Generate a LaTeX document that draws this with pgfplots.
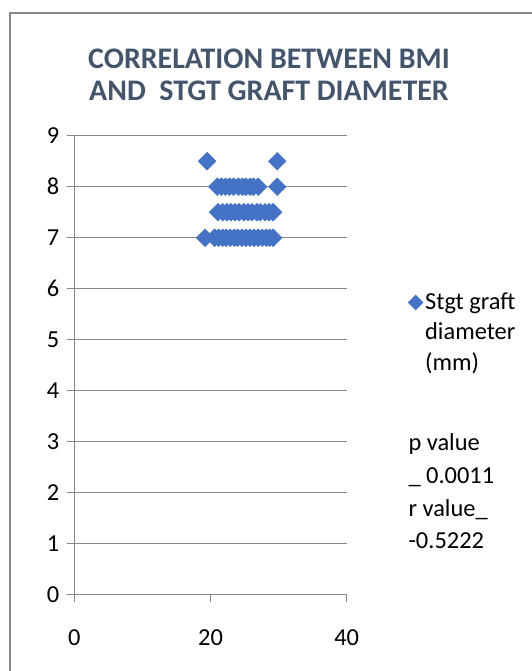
\documentclass[border=0pt]{standalone}
\usepackage{pgfplots}
\pgfplotsset{compat=1.18}
\usepackage{fontspec}
\setmainfont{Carlito}
\definecolor{mainblue}{RGB}{68,114,196}
\definecolor{titlecol}{RGB}{68,84,106}
\definecolor{gridcol}{RGB}{134,134,134}
\definecolor{framecol}{RGB}{137,137,137}
\pgfplotstableread{
x y
19.5 8.5
29.8 8.5
21.0 8
21.6 8
22.2 8
22.8 8
23.4 8
24.1 8
24.7 8
25.2 8
25.8 8
26.3 8
27.0 8
29.8 8
21.1 7.5
21.8 7.5
22.4 7.5
23.0 7.5
23.6 7.5
24.2 7.5
24.9 7.5
25.5 7.5
26.1 7.5
26.8 7.5
27.3 7.5
28.0 7.5
28.6 7.5
29.2 7.5
19.2 7
20.6 7
21.2 7
21.8 7
22.3 7
22.9 7
23.5 7
24.0 7
24.6 7
25.2 7
25.8 7
26.4 7
27.0 7
27.6 7
28.2 7
28.7 7
29.2 7
}\datatable
\begin{document}
\begin{tikzpicture}[x=1bp,y=1bp]
\path[use as bounding box] (0,0) rectangle (532,671);
\draw[framecol, line width=1.5bp] (10,0) -- (10,658) -- (533,658);
\node[font=\fontsize{30}{32}\selectfont\bfseries, text=titlecol, align=center] at (269,596) {CORRELATION BETWEEN BMI\\AND\ \ STGT GRAFT DIAMETER};
\begin{axis}[
  at={(74.3bp,76bp)}, anchor=south west,
  scale only axis, width=272.4bp, height=459.3bp,
  xmin=0, xmax=40, ymin=0, ymax=9,
  xtick={0,20,40}, ytick={0,1,...,9},
  axis x line*=bottom, axis y line*=left,
  axis line style={gridcol, line width=1bp},
  ymajorgrids, grid style={gridcol, line width=1bp},
  major tick length=7.5bp, tick align=outside,
  tick style={gridcol, line width=1bp},
  tick label style={font=\fontsize{24.5}{28}\selectfont, text=black},
  /pgf/number format/assume math mode=true,
  xticklabel style={yshift=-24bp},
  yticklabel style={xshift=-4bp},
  legend style={draw=none, fill=none, at={(1.214,0.677)}, anchor=north west,
    font=\fontsize{24.5}{30.5}\selectfont, cells={anchor=base west}},
  legend image code/.code={\draw[#1, only marks, mark size=5.3bp] plot coordinates {(-3bp,7bp)};},
]
\addplot[only marks, mark=square*, mark size=6.3bp, mark options={rotate=45, fill=mainblue, draw=mainblue}] table[x=x,y=y] {\datatable};
\addlegendentry{\begin{tabular}[t]{@{}l@{}}Stgt graft\\diameter\\(mm)\end{tabular}}
\end{axis}
\node[anchor=base west, align=left, font=\fontsize{24.5}{33}\selectfont] at (405,122) {p value\\\_ 0.0011\\r value\_\\-0.5222};
\end{tikzpicture}
\end{document}
